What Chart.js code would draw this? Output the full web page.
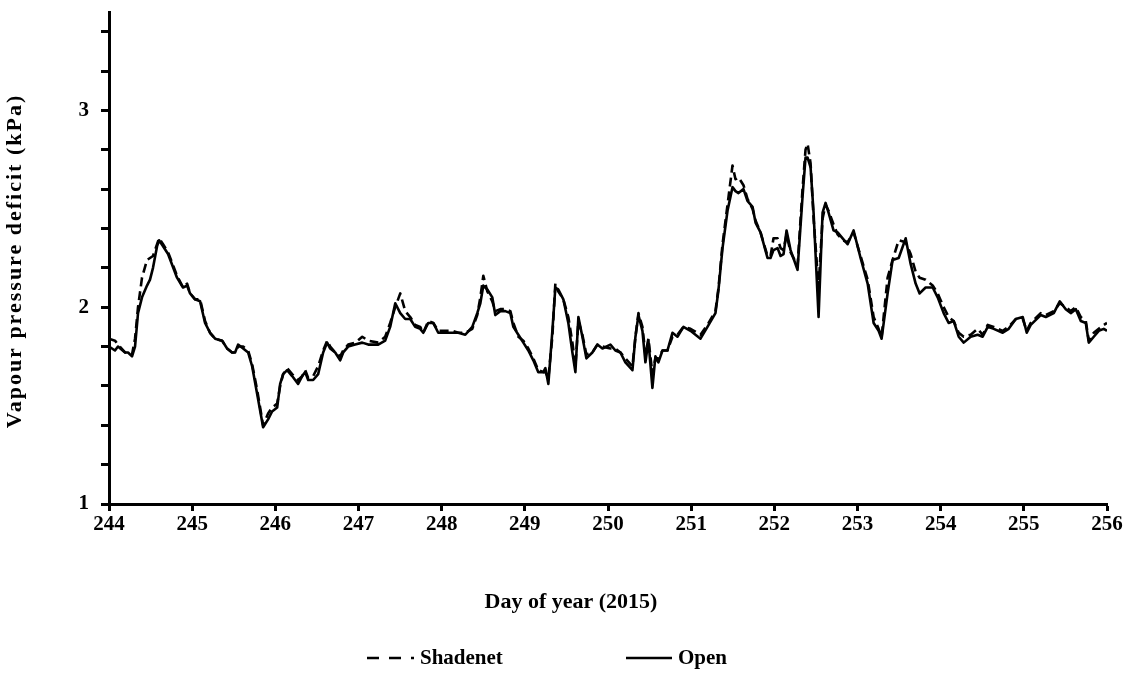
<!DOCTYPE html>
<html><head><meta charset="utf-8">
<script src="https://cdn.jsdelivr.net/npm/chart.js@4/dist/chart.umd.min.js"></script>
<style>html,body{margin:0;padding:0;background:#fff;}</style>
</head><body>
<canvas id="c" width="1131" height="673"></canvas>
<script>
// Day of year (x), Shadenet and Open VPD (kPa)
const days = [
244.000,244.072,244.108,244.193,244.229,244.277,244.313,244.349,244.397,244.457,244.493,244.529,244.578,244.602,244.650,244.710,244.818,244.890,244.939,244.975,
245.035,245.095,245.155,245.215,245.276,245.360,245.420,245.480,245.516,245.552,245.613,245.673,245.721,245.781,245.853,245.913,245.961,
246.022,246.058,246.094,246.142,246.202,246.274,246.323,246.359,246.395,246.455,246.515,246.575,246.623,246.660,246.720,246.780,246.816,246.876,246.960,
247.045,247.117,247.237,247.321,247.381,247.442,247.502,247.562,247.622,247.682,247.742,247.779,247.839,247.899,247.959,
248.043,248.128,248.200,248.284,248.368,248.428,248.465,248.501,248.549,248.609,248.645,248.705,248.765,248.826,248.862,248.922,248.982,
249.042,249.102,249.162,249.223,249.247,249.283,249.331,249.367,249.403,249.463,249.523,249.572,249.608,249.644,249.692,249.740,249.812,249.872,249.933,
250.029,250.089,250.149,250.209,250.294,250.330,250.366,250.414,250.450,250.486,250.534,250.570,250.606,250.655,250.715,250.775,250.835,250.907,250.992,
251.112,251.196,251.292,251.329,251.377,251.437,251.497,251.533,251.569,251.629,251.677,251.738,251.774,251.834,251.918,251.954,251.990,
252.039,252.075,252.111,252.147,252.195,252.279,252.339,252.375,252.400,252.436,252.472,252.532,252.580,252.616,252.652,252.712,252.761,252.821,252.881,252.953,
253.037,253.122,253.194,253.254,253.290,253.362,253.422,253.495,253.579,253.639,253.699,253.747,253.819,253.904,253.964,
254.036,254.096,254.156,254.217,254.277,254.361,254.445,254.505,254.566,254.638,254.746,254.818,254.903,254.987,
255.035,255.083,255.203,255.264,255.360,255.432,255.504,255.564,255.625,255.685,255.745,255.781,255.841,255.901,255.961,256.000
];
const shadenet = [
1.84,1.83,1.81,1.77,1.77,1.76,1.84,2.00,2.15,2.24,2.25,2.26,2.32,2.35,2.32,2.28,2.16,2.10,2.12,2.07,
2.04,2.04,1.93,1.87,1.84,1.83,1.79,1.77,1.77,1.80,1.80,1.78,1.71,1.58,1.40,1.46,1.49,
1.51,1.60,1.66,1.69,1.66,1.63,1.65,1.68,1.64,1.65,1.70,1.78,1.83,1.80,1.77,1.75,1.78,1.81,1.82,
1.85,1.83,1.82,1.85,1.92,2.00,2.07,1.98,1.95,1.91,1.90,1.87,1.93,1.92,1.88,
1.88,1.88,1.87,1.87,1.89,1.96,2.05,2.16,2.08,2.03,1.98,1.99,1.99,1.98,1.92,1.85,1.83,
1.79,1.74,1.68,1.67,1.67,1.64,1.85,2.12,2.08,2.04,1.95,1.82,1.70,1.93,1.86,1.76,1.77,1.81,1.80,
1.79,1.79,1.77,1.74,1.70,1.85,1.97,1.90,1.76,1.84,1.66,1.74,1.74,1.78,1.78,1.85,1.86,1.90,1.89,
1.86,1.91,1.98,2.10,2.32,2.52,2.72,2.65,2.66,2.62,2.55,2.50,2.44,2.38,2.26,2.26,2.35,
2.35,2.30,2.29,2.37,2.28,2.21,2.60,2.80,2.83,2.73,2.45,2.10,2.45,2.52,2.49,2.42,2.37,2.34,2.33,2.38,
2.26,2.14,1.95,1.89,1.85,2.15,2.24,2.34,2.33,2.27,2.18,2.15,2.14,2.11,2.07,
2.00,1.95,1.93,1.87,1.85,1.86,1.89,1.86,1.91,1.90,1.88,1.90,1.94,1.94,
1.88,1.92,1.97,1.96,1.98,2.02,2.00,1.98,2.00,1.95,1.93,1.83,1.87,1.89,1.91,1.92
];
const open = [
1.80,1.78,1.80,1.77,1.77,1.75,1.80,1.97,2.05,2.11,2.14,2.20,2.31,2.34,2.31,2.27,2.15,2.10,2.11,2.07,
2.04,2.03,1.92,1.87,1.84,1.83,1.79,1.77,1.77,1.81,1.79,1.77,1.70,1.56,1.39,1.43,1.47,
1.49,1.61,1.66,1.68,1.65,1.61,1.65,1.67,1.63,1.63,1.66,1.77,1.82,1.79,1.77,1.73,1.77,1.80,1.81,
1.82,1.81,1.81,1.83,1.90,2.02,1.97,1.94,1.94,1.90,1.89,1.87,1.92,1.92,1.87,
1.87,1.87,1.87,1.86,1.90,1.97,2.02,2.11,2.09,2.05,1.96,1.98,1.98,1.97,1.90,1.86,1.82,
1.78,1.73,1.67,1.67,1.69,1.61,1.88,2.10,2.09,2.04,1.92,1.77,1.67,1.95,1.85,1.74,1.77,1.81,1.79,
1.81,1.78,1.77,1.72,1.68,1.85,1.96,1.88,1.72,1.83,1.59,1.75,1.72,1.78,1.78,1.87,1.85,1.90,1.88,
1.84,1.90,1.97,2.09,2.30,2.49,2.61,2.59,2.58,2.60,2.54,2.51,2.43,2.38,2.25,2.25,2.29,
2.30,2.26,2.27,2.39,2.29,2.19,2.56,2.76,2.76,2.71,2.48,1.95,2.48,2.53,2.48,2.39,2.38,2.35,2.32,2.39,
2.25,2.12,1.92,1.88,1.84,2.07,2.24,2.25,2.35,2.22,2.12,2.07,2.10,2.10,2.05,
1.97,1.92,1.93,1.85,1.82,1.85,1.86,1.85,1.90,1.89,1.87,1.89,1.94,1.95,
1.87,1.91,1.96,1.95,1.97,2.03,1.99,1.97,1.99,1.93,1.92,1.82,1.85,1.88,1.89,1.88
];
const xTicks = [244,245,246,247,248,249,250,251,252,253,254,255,256];
const yTicks = [1,1.2,1.4,1.6,1.8,2,2.2,2.4,2.6,2.8,3,3.2,3.4];
const yTickLabels = [1,2,3];
const seriesNames = ['Shadenet','Open'];
const xTitle = 'Day of year (2015)';
const yTitle = 'Vapour pressure deficit (kPa)';

const FONT = 'Liberation Serif';

const textAndLegend = {
  id: 'textAndLegend',
  afterDraw(chart) {
    const ctx = chart.ctx;
    ctx.save();
    ctx.fillStyle = '#000';
    ctx.font = 'bold 22px "' + FONT + '"';
    ctx.textAlign = 'center';
    ctx.textBaseline = 'middle';
    ctx.fillText(xTitle, 571, 602);
    ctx.save();
    ctx.translate(15, 261);
    ctx.rotate(-Math.PI / 2);
    if ('letterSpacing' in ctx) ctx.letterSpacing = '2px';
    ctx.fillText(yTitle, 0, 0);
    ctx.restore();
    const pos = [{x: 367, w: 47}, {x: 626, w: 46}];
    const y = 659;
    chart.data.datasets.forEach((ds, i) => {
      const p = pos[i];
      ctx.strokeStyle = '#000';
      ctx.lineWidth = 2.5;
      ctx.setLineDash(i === 0 ? [12, 10] : []);
      ctx.beginPath();
      ctx.moveTo(p.x, y - 1);
      ctx.lineTo(p.x + p.w, y - 1);
      ctx.stroke();
      ctx.setLineDash([]);
      ctx.font = 'bold 21px "' + FONT + '"';
      ctx.textBaseline = 'middle';
      ctx.textAlign = 'left';
      ctx.fillText(ds.label, p.x + p.w + 6, y);
    });
    ctx.restore();
  }
};

const toPts = (arr) => arr.map((v, i) => ({x: days[i], y: v}));

new Chart(document.getElementById('c'), {
  type: 'line',
  data: {
    datasets: [
      {label: seriesNames[0], data: toPts(shadenet), borderColor: '#000', borderWidth: 2.6, borderDash: [9, 5], pointRadius: 0, tension: 0, borderJoinStyle: 'round'},
      {label: seriesNames[1], data: toPts(open), borderColor: '#000', borderWidth: 2.6, pointRadius: 0, tension: 0, borderJoinStyle: 'round'}
    ]
  },
  options: {
    responsive: false,
    animation: false,
    devicePixelRatio: 1,
    layout: {padding: {left: 0, top: 12, right: 24, bottom: 57}},
    plugins: {legend: {display: false}, tooltip: {enabled: false}},
    scales: {
      x: {
        type: 'linear', min: 244, max: 256,
        afterBuildTicks: (s) => { s.ticks = xTicks.map(v => ({value: v})); },
        afterFit: (s) => { s.height = 112; s.paddingLeft = 0; s.paddingRight = 0; },
        grid: {drawOnChartArea: false, drawTicks: true, tickLength: 7, tickWidth: 3, tickColor: '#000'},
        border: {display: true, color: '#000', width: 3},
        ticks: {color: '#000', font: {family: FONT, size: 21, weight: 'bold'}, padding: 1, maxRotation: 0, autoSkip: false},
        title: {display: false}
      },
      y: {
        type: 'linear', min: 1, max: 3.5,
        afterBuildTicks: (s) => { s.ticks = yTicks.map(v => ({value: v})); },
        afterFit: (s) => { s.width = 109; s.paddingTop = 0; s.paddingBottom = 0; },
        grid: {drawOnChartArea: false, drawTicks: true, tickLength: 8, tickWidth: 3, tickColor: '#000'},
        border: {display: true, color: '#000', width: 3},
        ticks: {color: '#000', font: {family: FONT, size: 21, weight: 'bold'}, padding: 12, autoSkip: false,
          callback: (v) => { const r = Math.round(v); return (Math.abs(v - r) < 1e-6 && yTickLabels.includes(r)) ? String(r) : ''; }},
        title: {display: false}
      }
    }
  },
  plugins: [textAndLegend]
});
</script>
</body></html>
